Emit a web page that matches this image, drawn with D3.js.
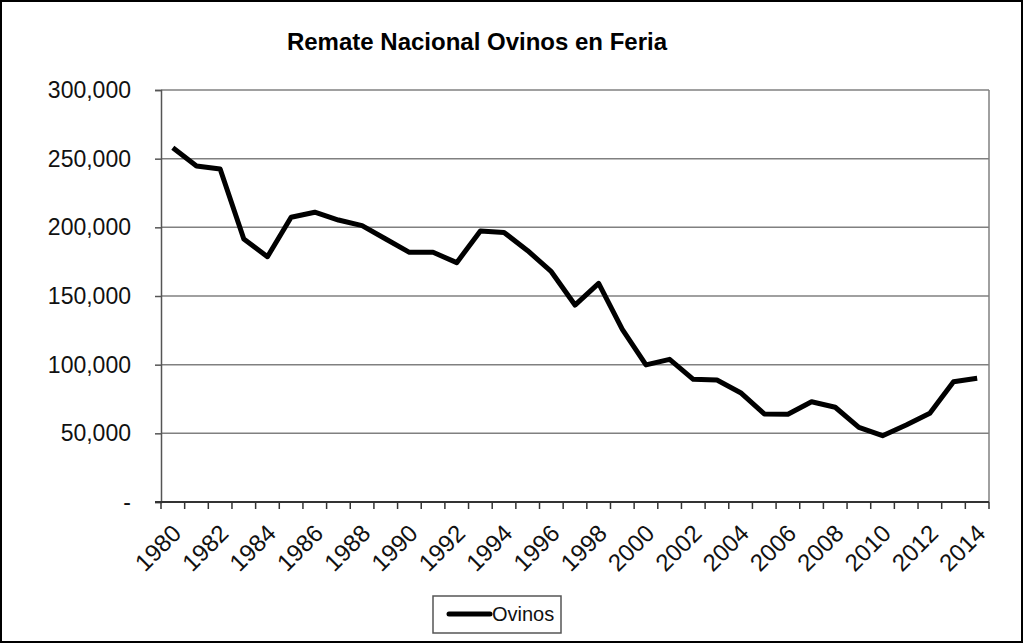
<!DOCTYPE html>
<html>
<head>
<meta charset="utf-8">
<script src="https://cdn.jsdelivr.net/npm/d3@7"></script>
<style>
  body { margin: 0; background: #fff; }
  text { font-family: "Liberation Sans", Arial, sans-serif; }
</style>
</head>
<body>
<div id="chart"></div>
<script>
// data
var years = d3.range(1980, 2015);
var ovinos = [258000, 244700, 242500, 191500, 178600, 207300, 211000, 205300, 201200, 191500,
              181800, 181800, 174300, 197300, 196300, 183000, 167700, 143400, 159200, 125700,
              99800, 103900, 89300, 88800, 79600, 64100, 63900, 73000, 69000, 54400,
              48300, 56100, 64600, 87600, 90100];
var yTicks = [0, 50000, 100000, 150000, 200000, 250000, 300000];
var xLabels = years.filter(function (d) { return d % 2 === 0; });

var W = 1024, H = 644;
var margin = {top: 90, right: 35, bottom: 142, left: 161},
    width = 989 - margin.left,
    height = 502 - margin.top;

var svg = d3.select("#chart")
  .append("svg")
    .attr("width", W)
    .attr("height", H);

// outer frame
svg.append("rect")
  .attr("x", 1).attr("y", 1)
  .attr("width", W - 3).attr("height", H - 3)
  .attr("fill", "#fff")
  .attr("stroke", "#000")
  .attr("stroke-width", 2);

svg.append("text")
  .attr("x", 477).attr("y", 50)
  .attr("text-anchor", "middle")
  .style("font-size", "24px")
  .style("font-weight", "bold")
  .text("Remate Nacional Ovinos en Feria");

var g = svg.append("g")
  .attr("transform", "translate(" + margin.left + "," + margin.top + ")");

var x = d3.scaleBand()
  .domain(years)
  .range([0, width]);

var y = d3.scaleLinear()
  .domain([0, 300000])
  .range([height, 0]);

// horizontal gridlines
g.selectAll(".grid")
  .data(yTicks.filter(function (d) { return d > 0; }))
  .enter()
  .append("line")
    .attr("x1", 0).attr("x2", width)
    .attr("y1", function (d) { return y(d); })
    .attr("y2", function (d) { return y(d); })
    .attr("stroke", "#808080")
    .attr("stroke-width", 1.5);

// right border of plot area
g.append("line")
  .attr("x1", width).attr("x2", width)
  .attr("y1", 0).attr("y2", height)
  .attr("stroke", "#808080")
  .attr("stroke-width", 1.5);

// Y axis
var yAxis = g.append("g")
  .call(d3.axisLeft(y)
    .tickValues(yTicks)
    .tickSize(6)
    .tickPadding(24)
    .tickFormat(function (d) { return d === 0 ? "-" : d3.format(",")(d); }));
yAxis.select(".domain").attr("stroke", "#555").attr("stroke-width", 1.5);
yAxis.selectAll(".tick line").attr("stroke", "#555").attr("stroke-width", 1.5);
yAxis.selectAll("text")
  .style("font-size", "23px")
  .style("font-family", "'Liberation Sans', Arial, sans-serif")
  .attr("fill", "#111");

// X axis: ticks at band edges
var xAxis = g.append("g")
  .attr("transform", "translate(0," + height + ")");
xAxis.append("line")
  .attr("x1", -6).attr("x2", width)
  .attr("stroke", "#333").attr("stroke-width", 2);
xAxis.selectAll(".xtick")
  .data(years.concat([2015]))
  .enter()
  .append("line")
    .attr("x1", function (d) { return d === 2015 ? width : x(d); })
    .attr("x2", function (d) { return d === 2015 ? width : x(d); })
    .attr("y1", 0).attr("y2", 7)
    .attr("stroke", "#333").attr("stroke-width", 1.5);
xAxis.selectAll(".xlabel")
  .data(xLabels)
  .enter()
  .append("text")
    .attr("transform", function (d) {
      return "translate(" + (x(d) + x.bandwidth() / 2 - 2) + ",21) rotate(-45)";
    })
    .attr("text-anchor", "end")
    .attr("dy", "0.7em")
    .style("font-size", "24px")
    .attr("fill", "#111")
    .text(function (d) { return d; });

// series line
g.append("path")
  .datum(ovinos)
  .attr("fill", "none")
  .attr("stroke", "#000")
  .attr("stroke-width", 5)
  .attr("stroke-linejoin", "round")
  .attr("d", d3.line()
    .x(function (d, i) { return x(years[i]) + x.bandwidth() / 2; })
    .y(function (d) { return y(d); }));

// legend
var leg = svg.append("g").attr("transform", "translate(433,596)");
leg.append("rect")
  .attr("width", 128).attr("height", 37)
  .attr("fill", "#fff")
  .attr("stroke", "#555")
  .attr("stroke-width", 1.5);
leg.append("line")
  .attr("x1", 16).attr("x2", 57)
  .attr("y1", 18).attr("y2", 18)
  .attr("stroke", "#000")
  .attr("stroke-width", 5)
  .attr("stroke-linecap", "round");
leg.append("text")
  .attr("x", 59).attr("y", 25)
  .style("font-size", "20px")
  .attr("fill", "#111")
  .text("Ovinos");
</script>
</body>
</html>
